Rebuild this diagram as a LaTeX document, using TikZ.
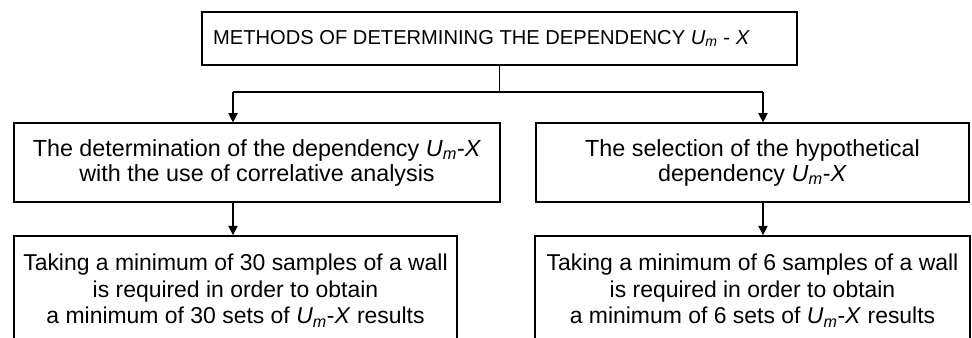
\documentclass[tikz,border=0pt]{standalone}
\usepackage{fontspec}
\setmainfont{Liberation Sans}
\usetikzlibrary{arrows.meta,positioning}
\tikzset{
  headbox/.style={draw, line width=1.1pt, inner sep=0pt,
    minimum width=446pt, minimum height=40pt,
    align=center, font=\fontsize{15.1}{17}\selectfont},
  methodbox/.style={draw, line width=1.1pt, inner sep=0pt,
    minimum height=59pt,
    align=center, font=\fontsize{17.5}{18.75}\selectfont},
  samplebox/.style={draw, line width=1.1pt, inner sep=0pt,
    minimum height=82pt,
    align=center, font=\fontsize{17.2}{19.9}\selectfont},
  link/.style={line width=0.8pt},
  arr/.style={-{Triangle[length=7pt, width=7pt]}, line width=0.8pt},
}
\newcommand{\Um}{\textit{U}\textsubscript{\textit{m}}}

\begin{document}
\begin{tikzpicture}[x=0.75pt, y=-0.75pt]
  \clip (0,0) rectangle (972,337);

  % Heading
  \node[headbox] (head) at (499.5,38.5)
    {METHODS OF DETERMINING THE DEPENDENCY \Um{} - \textit{X}\hspace*{27pt}};

  % Two methods
  \node[methodbox, minimum width=364.5pt] (corr) at (257,162.5)
    {The determination of the dependency \Um-\textit{X}\\
     with the use of correlative analysis};
  \node[methodbox, minimum width=325pt] (hyp) at (752.5,162.5)
    {The selection of the hypothetical\\
     dependency \Um-\textit{X}};

  % Number of samples
  \node[samplebox, minimum width=332pt] (corrsmp) at (235.5,290.5)
    {Taking a minimum of 30 samples of a wall\\
     is required in order to obtain\\
     a minimum of 30 sets of \Um-\textit{X} results};
  \node[samplebox, minimum width=326pt] (hypsmp) at (752.5,290.5)
    {Taking a minimum of 6 samples of a wall\\
     is required in order to obtain\\
     a minimum of 6 sets of \Um-\textit{X} results};

  % Connectors
  \coordinate (jl) at (233,92);
  \coordinate (jr) at (763,92);
  \draw[link] (head.south) -- (head.south |- jl);
  \draw[link] (jl) -- (jr);
  \draw[arr] (jl) -- (jl |- corr.north);
  \draw[arr] (jr) -- (jr |- hyp.north);
  \draw[arr] (jl |- corr.south) -- (jl |- corrsmp.north);
  \draw[arr] (jr |- hyp.south) -- (jr |- hypsmp.north);
\end{tikzpicture}
\end{document}
